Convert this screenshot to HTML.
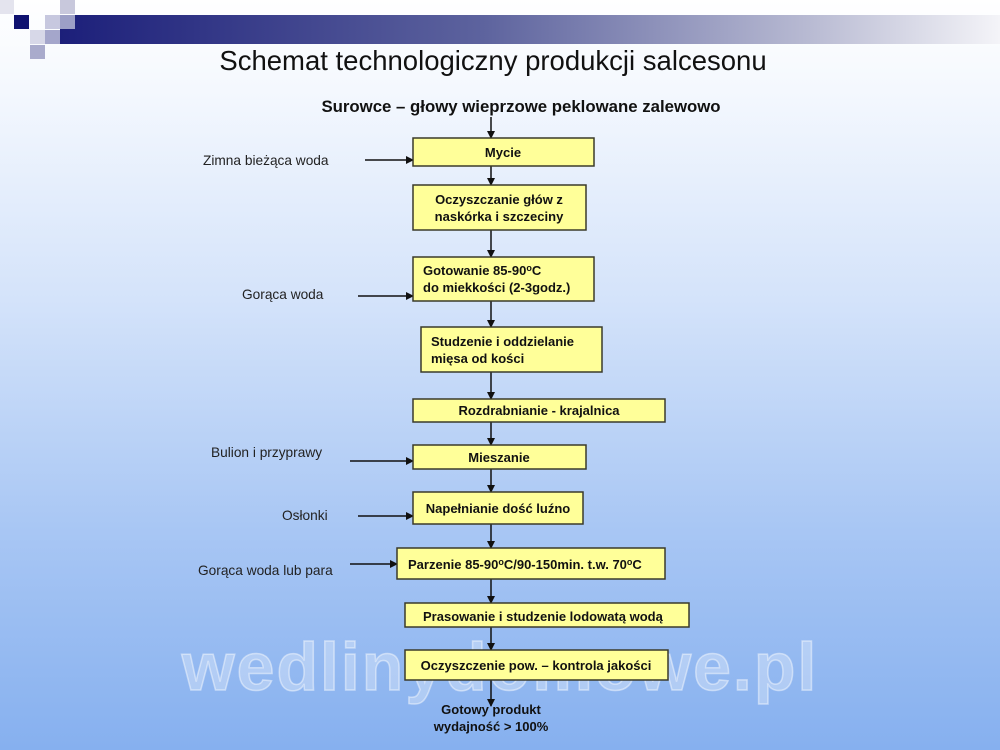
<!DOCTYPE html>
<html><head><meta charset="utf-8"><style>
html,body{margin:0;padding:0}
body{width:1000px;height:750px;overflow:hidden;background:linear-gradient(to bottom,#ffffff 0%,#f4f8fe 12%,#d4e3fa 40%,#a9c7f4 70%,#86b0ef 100%);font-family:"Liberation Sans",sans-serif;position:relative}
svg{position:absolute;left:0;top:0}
</style></head><body>
<svg width="1000" height="750" viewBox="0 0 1000 750" font-family="Liberation Sans, sans-serif">
<defs>
<linearGradient id="bar" x1="0" x2="1"><stop offset="0" stop-color="#1c1f7a"/><stop offset="0.45" stop-color="#5d639e"/><stop offset="0.8" stop-color="#b9bbd3"/><stop offset="1" stop-color="#f4f4f8"/></linearGradient>
<marker id="ah" markerWidth="8" markerHeight="8" refX="7" refY="4" orient="auto" markerUnits="userSpaceOnUse"><path d="M0,0 L8,4 L0,8 z" fill="#111"/></marker>
</defs>
<rect x="60" y="15" width="940" height="29" fill="url(#bar)"/>
<rect x="0" y="0" width="14" height="14" fill="#e4e4ee"/>
<rect x="14" y="15" width="15" height="14" fill="#0f1270"/>
<rect x="45" y="15" width="15" height="14" fill="#c7c8df"/>
<rect x="60" y="0" width="15" height="14" fill="#c8c8dc"/>
<rect x="60" y="15" width="15" height="14" fill="#9c9fc6"/>
<rect x="30" y="30" width="15" height="14" fill="#d7d8e8"/>
<rect x="45" y="30" width="15" height="14" fill="#a4a6cb"/>
<rect x="30" y="45" width="15" height="14" fill="#a9abcc"/>
<text x="493" y="70" font-size="27.5" text-anchor="middle" fill="#111">Schemat technologiczny produkcji salcesonu</text>
<text x="521" y="112" font-size="16.8" font-weight="bold" text-anchor="middle" fill="#111">Surowce – głowy wieprzowe peklowane zalewowo</text>
<text x="500" y="690" font-size="68" font-weight="bold" text-anchor="middle" fill="#ffffff" fill-opacity="0.3" stroke="#ffffff" stroke-opacity="0.45" stroke-width="1.5" letter-spacing="2">wedlinydomowe.pl</text>
<g stroke="#111" stroke-width="1.5" marker-end="url(#ah)">
<line x1="491" y1="117" x2="491" y2="138"/>
<line x1="491" y1="166" x2="491" y2="185"/>
<line x1="491" y1="230" x2="491" y2="257"/>
<line x1="491" y1="301" x2="491" y2="327"/>
<line x1="491" y1="372" x2="491" y2="399"/>
<line x1="491" y1="422" x2="491" y2="445"/>
<line x1="491" y1="469" x2="491" y2="492"/>
<line x1="491" y1="524" x2="491" y2="548"/>
<line x1="491" y1="579" x2="491" y2="603"/>
<line x1="491" y1="627" x2="491" y2="650"/>
<line x1="491" y1="680" x2="491" y2="706"/>
<line x1="365" y1="160" x2="413" y2="160"/>
<line x1="358" y1="296" x2="413" y2="296"/>
<line x1="350" y1="461" x2="413" y2="461"/>
<line x1="358" y1="516" x2="413" y2="516"/>
<line x1="350" y1="564" x2="397" y2="564"/>
</g>
<g fill="#ffff99" stroke="#3a3a2a" stroke-width="1.5">
<rect x="413" y="138" width="181" height="28"/>
<rect x="413" y="185" width="173" height="45"/>
<rect x="413" y="257" width="181" height="44"/>
<rect x="421" y="327" width="181" height="45"/>
<rect x="413" y="399" width="252" height="23"/>
<rect x="413" y="445" width="173" height="24"/>
<rect x="413" y="492" width="170" height="32"/>
<rect x="397" y="548" width="268" height="31"/>
<rect x="405" y="603" width="284" height="24"/>
<rect x="405" y="650" width="263" height="30"/>
</g>
<g font-size="13" font-weight="bold" fill="#111">
<text x="503" y="157" text-anchor="middle">Mycie</text>
<text x="499" y="204" text-anchor="middle">Oczyszczanie głów z</text>
<text x="499" y="221" text-anchor="middle">naskórka i szczeciny</text>
<text x="423" y="275">Gotowanie 85-90<tspan font-size="9" dy="-4">o</tspan><tspan dy="4">C</tspan></text>
<text x="423" y="292">do miekkości (2-3godz.)</text>
<text x="431" y="346">Studzenie i oddzielanie</text>
<text x="431" y="363">mięsa od kości</text>
<text x="539" y="415" text-anchor="middle">Rozdrabnianie - krajalnica</text>
<text x="499" y="462" text-anchor="middle">Mieszanie</text>
<text x="498" y="513" text-anchor="middle">Napełnianie dość luźno</text>
<text x="408" y="569">Parzenie 85-90<tspan font-size="9" dy="-4">o</tspan><tspan dy="4">C/90-150min. t.w. 70</tspan><tspan font-size="9" dy="-4">o</tspan><tspan dy="4">C</tspan></text>
<text x="423" y="621">Prasowanie i studzenie lodowatą wodą</text>
<text x="536" y="670" text-anchor="middle">Oczyszczenie pow. – kontrola jakości</text>
<text x="491" y="714" text-anchor="middle">Gotowy produkt</text>
<text x="491" y="731" text-anchor="middle">wydajność &gt; 100%</text>
</g>
<g font-size="13.7" fill="#222">
<text x="203" y="165">Zimna bieżąca woda</text>
<text x="242" y="299">Gorąca woda</text>
<text x="211" y="457">Bulion i przyprawy</text>
<text x="282" y="520">Osłonki</text>
<text x="198" y="575">Gorąca woda lub para</text>
</g>
</svg>
</body></html>
